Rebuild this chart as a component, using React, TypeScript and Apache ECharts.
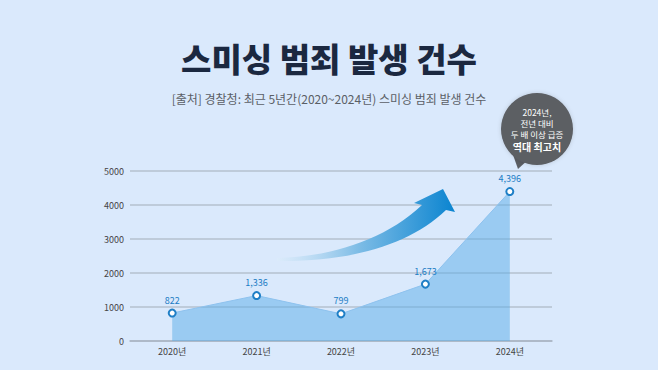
import React, { useEffect, useRef } from "react";
import * as echarts from "echarts";

const categories = ["2020년", "2021년", "2022년", "2023년", "2024년"];
const values = [822, 1336, 799, 1673, 4396];
const yTicks = [0, 1000, 2000, 3000, 4000, 5000];
const titleText = "스미싱 범죄 발생 건수";
const subtitleText = "[출처] 경찰청: 최근 5년간(2020~2024년) 스미싱 범죄 발생 건수";
const calloutLines = ["2024년,", "전년 대비", "두 배 이상 급증", "역대 최고치"];

const FONT = '"Noto Sans CJK KR", "Noto Sans", sans-serif';

const arrowPath =
  "M 277 258 C 330 257 385 240 422 205 L 414 203 L 443 189 L 455 212 L 446 210 C 410 245 350 262 277 261 Z";
echarts.graphic.registerShape("trendArrow", (echarts.graphic as any).extendPath(arrowPath, {}));

export default function App() {
  const ref = useRef<HTMLDivElement>(null);
  useEffect(() => {
    document.body.style.margin = "0";
    const chart = echarts.init(ref.current!, null, { renderer: "svg" });
    const calloutText = calloutLines
      .map((t, i) => (i === calloutLines.length - 1 ? `{b|${t}}` : `{a|${t}}`))
      .join("\n");
    chart.setOption({
      animation: false,
      backgroundColor: "#dae9fc",
      grid: { left: 130, right: 106, top: 171, bottom: 29, containLabel: false },
      xAxis: {
        type: "category",
        data: categories,
        boundaryGap: true,
        axisLine: { show: true, lineStyle: { color: "#a9b4c2", width: 1.5 } },
        axisTick: { show: false },
        axisLabel: { color: "#444", fontSize: 9, fontFamily: FONT, margin: 6 },
      },
      yAxis: {
        type: "value",
        min: yTicks[0],
        max: yTicks[yTicks.length - 1],
        interval: 1000,
        axisLine: { show: false },
        axisTick: { show: false },
        axisLabel: {
          color: "#444",
          fontSize: 9,
          fontFamily: FONT,
          margin: 6,
          formatter: (v: number) => String(v),
        },
        splitLine: { lineStyle: { color: "#b4c0cf", width: 1.5 } },
      },
      series: [
        {
          type: "line",
          data: values,
          symbol: "emptyCircle",
          symbolSize: 7,
          itemStyle: { color: "#1f7fc6", borderWidth: 1.6, borderColor: "#1f7fc6" },
          lineStyle: { color: "#8ec2ee", width: 1 },
          areaStyle: { color: "#5aaee8", opacity: 0.5 },
          label: {
            show: true,
            position: "top",
            distance: 4,
            color: "#1a7cc4",
            fontSize: 9,
            fontFamily: FONT,
            formatter: (p: any) => Number(p.value).toLocaleString("en-US"),
          },
          z: 3,
        },
      ],
      graphic: [
        {
          type: "text",
          left: "center",
          top: 41,
          style: {
            text: titleText,
            fontSize: 33,
            fontWeight: 900,
            fontFamily: FONT,
            fill: "#1b2840",
          },
        },
        {
          type: "text",
          left: "center",
          top: 92,
          style: {
            text: subtitleText,
            fontSize: 12,
            fontFamily: FONT,
            fill: "#5a5f66",
          },
        },
        {
          type: "trendArrow",
          x: 0,
          y: 0,
          z: 5,
          style: {
            fill: {
              type: "linear",
              x: 0,
              y: 0,
              x2: 1,
              y2: 0,
              colorStops: [
                { offset: 0, color: "rgba(220,236,250,0.6)" },
                { offset: 0.45, color: "#7fbde6" },
                { offset: 1, color: "#0a84d0" },
              ],
            },
          },
        },
        {
          type: "polygon",
          z: 10,
          shape: { points: [[512, 152], [530, 158], [518, 169]] },
          style: { fill: "#5b5e63" },
        },
        {
          type: "circle",
          z: 10,
          shape: { cx: 537, cy: 129, r: 36 },
          style: { fill: "#5b5e63", shadowBlur: 4, shadowColor: "rgba(0,0,0,0.15)" },
        },
        {
          type: "text",
          z: 11,
          x: 537,
          y: 130,
          style: {
            text: calloutText,
            fontFamily: FONT,
            fill: "#ffffff",
            align: "center",
            verticalAlign: "middle",
            rich: {
              a: { fontSize: 8.5, lineHeight: 11, fill: "#ffffff", fontFamily: FONT },
              b: { fontSize: 10, fontWeight: 700, lineHeight: 15, fill: "#ffffff", fontFamily: FONT },
            },
          },
        },
      ],
    });
    return () => chart.dispose();
  }, []);
  return <div ref={ref} style={{ position: "fixed", left: 0, top: 0, width: 658, height: 370 }} />;
}
